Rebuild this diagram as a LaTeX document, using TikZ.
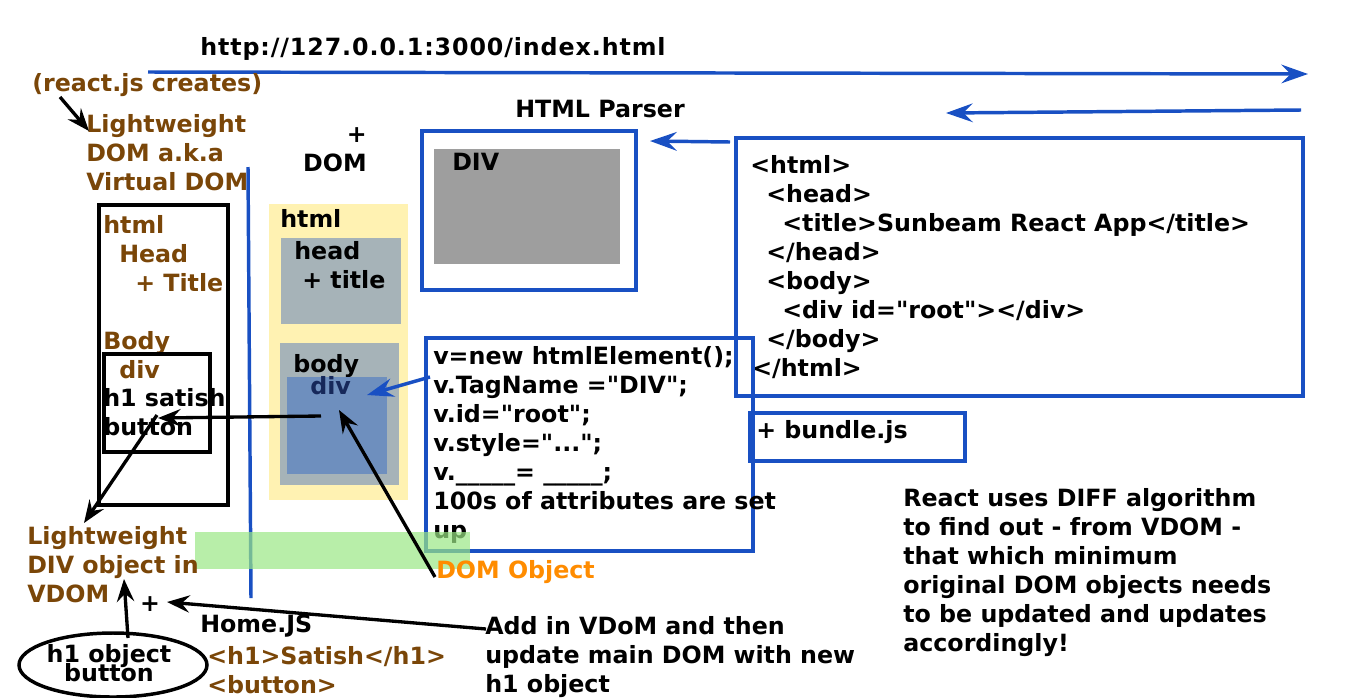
\documentclass[tikz,border=0pt]{standalone}
\usepackage{fontspec}
\setmainfont{DejaVu Sans}[Ligatures=TeXOff]
\usetikzlibrary{arrows.meta,shapes.geometric}
\definecolor{brn}{RGB}{122,70,8}
\definecolor{blu}{RGB}{25,80,195}
\definecolor{org}{RGB}{255,140,0}
\definecolor{yel}{RGB}{255,242,178}
\definecolor{gb}{RGB}{166,179,184}
\definecolor{dv}{RGB}{110,143,190}
\definecolor{navy}{RGB}{22,40,90}
\definecolor{grn}{RGB}{155,231,133}
\definecolor{gry}{RGB}{158,158,158}
\newcommand\mytightlines{\lineskiplimit=-30pt\relax\lineskip=0pt\relax}
\tikzset{
 txt/.style={font=\fontsize{17.8}{21.75}\selectfont\bfseries, inner sep=0pt, anchor=north west, align=left,
   execute at begin node={\rule{0pt}{14pt}}},
 barrow/.style={blu, line width=2.6pt, -{Stealth[length=20pt,width=14pt,inset=7pt]}},
 karrow/.style={black, line width=2.5pt, -{Stealth[length=17pt,width=13pt,inset=6pt]}},
 rbox/.style={inner sep=0pt, outer sep=0pt, anchor=north west},
 bbox/.style={rbox, draw=blu, line width=2.8pt},
 kbox/.style={rbox, draw=black, line width=2.6pt},
}
\begin{document}
\begin{tikzpicture}[x=0.75pt,y=-0.75pt]
\useasboundingbox[fill=white] (0,0) rectangle (1366,697);

% top URL and arrows
\node[txt] (url) at (200,37) {\addfontfeatures{LetterSpace=3.8}http://127.0.0.1:3000/index.html};
\coordinate (u1) at (148,72); \coordinate (u2) at (1308,74);
\draw[barrow] (u1) -- (u2);
\coordinate (r1) at (1301,110); \coordinate (r2) at (946,113);
\draw[barrow] (r1) -- (r2);

% react.js creates
\node[txt,text=brn] (react) at (32,73) {(react.js creates)};
\node[txt,text=brn] (lw) at (86,114) {Lightweight\\DOM a.k.a\\Virtual DOM};
\coordinate (ra1) at (60,97); \coordinate (ra2) at (89,131);
\draw[karrow] (ra1) -- (ra2);

\node[txt,align=right,anchor=north east] (plusdom) at (367,127) {+\\DOM};

% HTML parser
\node[txt] (parser) at (515,99) {HTML Parser};
\node[bbox,minimum width=160.5pt,minimum height=119.25pt] (pbox) at (422,131) {};
\node[rbox,fill=gry,minimum width=139.5pt,minimum height=86.25pt] (gbox) at (434,149) {};
\node[txt] (divt) at (452,152) {DIV};
\coordinate (p1) at (730,142); \coordinate (p2) at (650,141);
\draw[barrow] (p1) -- (p2);

% HTML source
\node[bbox,minimum width=425.25pt,minimum height=193.5pt] (hbox) at (736,138) {};
\node[txt] (hsrc) at (750,155) {<html>\\
\hspace*{12pt}<head>\\
\hspace*{24pt}<title>Sunbeam React App</title>\\
\hspace*{12pt}</head>\\
\hspace*{12pt}<body>\\
\hspace*{24pt}<div id="root"></div>\\
\hspace*{12pt}</body>\\
\hspace*{1.5pt}</html>};

\node[bbox,minimum width=161.25pt,minimum height=36pt] (bbx) at (750,413) {};
\node[txt] (bundle) at (756,420) {+ bundle.js};

% vertical blue line
\coordinate (v1) at (248,167); \coordinate (v2) at (251,598);
\draw[blu,line width=2.6pt] (v1) -- (v2);

% VDOM box
\node[kbox,minimum width=96.75pt,minimum height=225pt] (vbox) at (99,205) {};
\node[txt,text=brn] (vtxt) at (103,215) {html\\
\hspace*{12pt}Head\\
\hspace*{24pt}+ Title\\
\mbox{}\\
Body\\
\hspace*{12pt}div};
\node[kbox,minimum width=79.5pt,minimum height=73.5pt] (vdiv) at (104,354) {};
\node[txt] (h1s) at (103,388) {h1 satish\\button};

% real DOM
\node[rbox,fill=yel,minimum width=104.25pt,minimum height=222pt] (ybox) at (269,204) {};
\node[txt] (dhtml) at (280,209) {html};
\node[rbox,fill=gb,minimum width=90pt,minimum height=64.5pt] (dhead) at (281,238) {};
\node[txt] (dheadt) at (294,241) {head\\\hspace*{6pt}+ title};
\node[rbox,fill=gb,minimum width=89.25pt,minimum height=106.5pt] (dbody) at (280,343) {};
\node[txt] (dbodyt) at (293,354) {body};
\node[rbox,fill=dv,minimum width=75pt,minimum height=72.75pt] (ddiv) at (287,377) {};
\node[txt,text=navy] (ddivt) at (310,376) {div};

% code box
\node[bbox,minimum width=245.25pt,minimum height=159.75pt] (cbox) at (426,338) {};
\node[txt] (code) at (433,346) {v=new htmlElement();\\
v.TagName ="DIV";\\
v.id="root";\\
v.style="...";\\
v.\_\_\_\_\_= \_\_\_\_\_;\\
100s of attributes are set\\
up};

\coordinate (b1) at (430,377); \coordinate (b2) at (367,395);
\draw[barrow] (b1) -- (b2);

% green band
\node[rbox,fill=grn,fill opacity=0.7,minimum width=206.25pt,minimum height=27.75pt] (green) at (195,532) {};

\node[txt,text=org] (domobj) at (436,560) {DOM Object};

% black arrows
\coordinate (k1) at (321,416); \coordinate (k2) at (158,418);
\draw[karrow] (k1) -- (k2);
\coordinate (k3) at (435,577); \coordinate (k4) at (339,410);
\draw[karrow] (k3) -- (k4);
\coordinate (k5) at (157,415); \coordinate (k6) at (84,523);
\draw[karrow] (k5) -- (k6);

\node[txt,text=brn] (lwdiv) at (27,526) {Lightweight\\DIV object in\\VDOM};

\node[draw=black,line width=2.6pt,ellipse,inner sep=0pt,minimum width=141pt,minimum height=48pt] (ell) at (113,665) {};
\node[font=\fontsize{17.8}{14.25}\selectfont\bfseries\mytightlines,align=center,inner sep=0pt] (elltxt) at (109,663) {h1 object\\button};
\coordinate (e1) at (128,638); \coordinate (e2) at (124,579);
\draw[karrow] (e1) -- (e2);

\node[font=\fontsize{17.8}{18}\selectfont\bfseries,inner sep=0pt] (plus) at (150,604) {+};
\coordinate (h1) at (486,629); \coordinate (h2) at (167,602);
\draw[karrow] (h1) -- (h2);

\node[txt] (home) at (200,614) {Home.JS};
\node[txt,text=brn] (homec) at (207,646) {<h1>Satish</h1>\\<button>};

\node[txt] (add) at (485,616) {Add in VDoM and then\\update main DOM with new\\h1 object};

\node[txt] (react2) at (903,488) {React uses DIFF algorithm\\
to find out - from VDOM -\\
that which minimum\\
original DOM objects needs\\
to be updated and updates\\
accordingly!};
\end{tikzpicture}
\end{document}
